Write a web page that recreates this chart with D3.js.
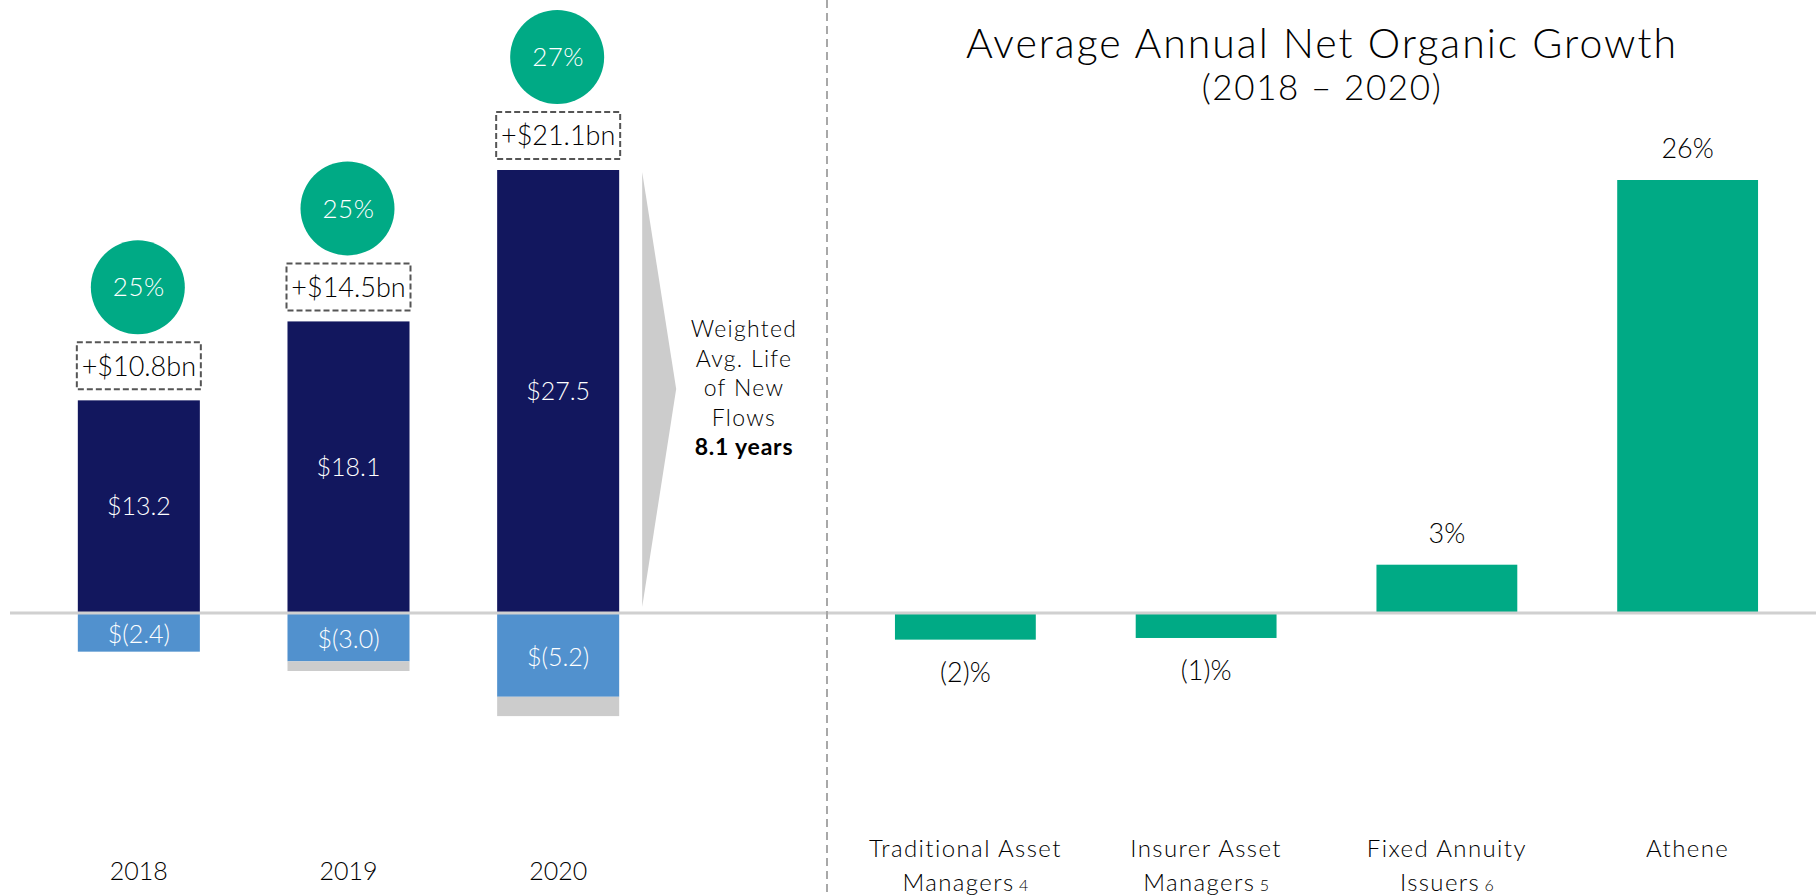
<!DOCTYPE html>
<html>
<head>
<meta charset="utf-8">
<script src="https://cdn.jsdelivr.net/npm/d3@7"></script>
<style>
  body { margin: 0; background: #fff; }
  svg text { font-family: Lato, "Open Sans", sans-serif; font-weight: 300; }
</style>
</head>
<body>
<svg id="chart" width="1816" height="895"></svg>
<script>
// left panel: annual flows
var years        = ["2018", "2019", "2020"];
var inflows      = [13.2, 18.1, 27.5];
var outflows     = [-2.4, -3.0, -5.2];
var otherOut     = [0, -0.6, -1.2];
var inflowLabels = ["$13.2", "$18.1", "$27.5"];
var outLabels    = ["$(2.4)", "$(3.0)", "$(5.2)"];
var netLabels    = ["+$10.8bn", "+$14.5bn", "+$21.1bn"];
var growthLabels = ["25%", "25%", "27%"];
var walLines     = ["Weighted", "Avg. Life", "of New", "Flows"];
var walValue     = "8.1 years";

// right panel: peer growth
var peers        = [["Traditional Asset", "Managers", "4"], ["Insurer Asset", "Managers", "5"], ["Fixed Annuity", "Issuers", "6"], ["Athene", "", ""]];
var peerGrowth   = [-1.6, -1.5, 2.9, 26];
var peerLabels   = ["(2)%", "(1)%", "3%", "26%"];

var navy  = "#12175e",
    blue  = "#5191ce",
    grey  = "#cccccc",
    green = "#00aa85";

var svg = d3.select("#chart");
var zeroY = 613;

// ---------- left chart ----------
var xL = d3.scaleBand().domain(years).range([34, 663]).paddingInner(0.418).paddingOuter(0.209);
var yL = d3.scaleLinear().domain([0, 27.5]).range([zeroY, 170]);
var bw = xL.bandwidth();

var left = svg.append("g");

left.selectAll(".in").data(years).enter().append("rect")
    .attr("x", function (d) { return xL(d); })
    .attr("y", function (d, i) { return yL(inflows[i]); })
    .attr("width", bw)
    .attr("height", function (d, i) { return yL(0) - yL(inflows[i]); })
    .attr("fill", navy);

left.selectAll(".out").data(years).enter().append("rect")
    .attr("x", function (d) { return xL(d); })
    .attr("y", yL(0))
    .attr("width", bw)
    .attr("height", function (d, i) { return yL(outflows[i]) - yL(0); })
    .attr("fill", blue);

left.selectAll(".other").data(years).enter().append("rect")
    .attr("x", function (d) { return xL(d); })
    .attr("y", function (d, i) { return yL(outflows[i]); })
    .attr("width", bw)
    .attr("height", function (d, i) { return yL(outflows[i] + otherOut[i]) - yL(outflows[i]); })
    .attr("fill", grey);

left.selectAll(".inLab").data(years).enter().append("text")
    .attr("x", function (d) { return xL(d) + bw / 2; })
    .attr("y", function (d, i) { return (yL(inflows[i]) + yL(0)) / 2; })
    .attr("dy", "0.35em")
    .attr("text-anchor", "middle")
    .attr("fill", "#fff")
    .style("font-size", "25px")
    .text(function (d, i) { return inflowLabels[i]; });

left.selectAll(".outLab").data(years).enter().append("text")
    .attr("x", function (d) { return xL(d) + bw / 2; })
    .attr("y", function (d, i) { return (yL(outflows[i]) + yL(0)) / 2 + 2; })
    .attr("dy", "0.35em")
    .attr("text-anchor", "middle")
    .attr("fill", "#fff")
    .style("font-size", "25px")
    .text(function (d, i) { return outLabels[i]; });

// dashed net boxes
left.selectAll(".box").data(years).enter().append("rect")
    .attr("x", function (d) { return xL(d) + bw / 2 - 62; })
    .attr("y", function (d, i) { return yL(inflows[i]) - 58; })
    .attr("width", 124)
    .attr("height", 47)
    .attr("fill", "none")
    .attr("stroke", "#555")
    .attr("stroke-width", 2)
    .attr("stroke-dasharray", "6,3");

left.selectAll(".boxLab").data(years).enter().append("text")
    .attr("x", function (d) { return xL(d) + bw / 2; })
    .attr("y", function (d, i) { return yL(inflows[i]) - 34; })
    .attr("dy", "0.35em")
    .attr("text-anchor", "middle")
    .attr("fill", "#000")
    .style("font-size", "27px")
    .text(function (d, i) { return netLabels[i]; });

left.selectAll(".circ").data(years).enter().append("circle")
    .attr("cx", function (d) { return xL(d) + bw / 2 - 1; })
    .attr("cy", function (d, i) { return yL(inflows[i]) - 113; })
    .attr("r", 47)
    .attr("fill", green);

left.selectAll(".circLab").data(years).enter().append("text")
    .attr("x", function (d) { return xL(d) + bw / 2; })
    .attr("y", function (d, i) { return yL(inflows[i]) - 113; })
    .attr("dy", "0.35em")
    .attr("text-anchor", "middle")
    .attr("fill", "#fff")
    .style("font-size", "26px")
    .style("letter-spacing", "0.5px")
    .text(function (d, i) { return growthLabels[i]; });

left.selectAll(".year").data(years).enter().append("text")
    .attr("x", function (d) { return xL(d) + bw / 2; })
    .attr("y", 880)
    .attr("text-anchor", "middle")
    .attr("fill", "#000")
    .style("font-size", "25px")
    .text(function (d) { return d; });

// grey arrow and weighted avg life note
var arrowX = xL("2020") + bw + 23;
left.append("polygon")
    .attr("points", [[arrowX, yL(27.5) + 2], [arrowX + 34, 389], [arrowX, 607]].join(" "))
    .attr("fill", grey);

var note = left.append("text")
    .attr("x", 744)
    .attr("text-anchor", "middle")
    .style("font-size", "23px")
    .style("letter-spacing", "1.3px")
    .attr("fill", "#000");
walLines.forEach(function (t, i) {
  note.append("tspan").attr("x", 744).attr("y", 337 + i * 29.5).text(t);
});
note.append("tspan").attr("x", 744).attr("y", 337 + 4 * 29.5)
    .style("font-weight", "700").style("letter-spacing", "0.8px").text(walValue);

// ---------- right chart ----------
var catKeys = peers.map(function (p) { return p[0]; });
var xR = d3.scaleBand().domain(catKeys).range([845, 1808]).paddingInner(0.415).paddingOuter(0.2075);
var yR = d3.scaleLinear().domain([0, 26]).range([zeroY, 180]);
var bwR = xR.bandwidth();

var right = svg.append("g");

right.selectAll(".peer").data(catKeys).enter().append("rect")
    .attr("x", function (d) { return xR(d); })
    .attr("y", function (d, i) { return yR(Math.max(0, peerGrowth[i])); })
    .attr("width", bwR)
    .attr("height", function (d, i) { return Math.abs(yR(peerGrowth[i]) - yR(0)); })
    .attr("fill", green);

right.selectAll(".peerLab").data(catKeys).enter().append("text")
    .attr("x", function (d) { return xR(d) + bwR / 2; })
    .attr("y", function (d, i) {
      return peerGrowth[i] >= 0 ? yR(peerGrowth[i]) - 31 : yR(peerGrowth[i]) + 33;
    })
    .attr("dy", "0.35em")
    .attr("text-anchor", "middle")
    .attr("fill", "#000")
    .style("font-size", "27px")
    .text(function (d, i) { return peerLabels[i]; });

var catLab = right.selectAll(".cat").data(peers).enter().append("text")
    .attr("text-anchor", "middle")
    .attr("fill", "#000")
    .style("font-size", "24px")
    .style("letter-spacing", "1.4px");
catLab.append("tspan")
    .attr("x", function (d) { return xR(d[0]) + bwR / 2; })
    .attr("y", 857)
    .text(function (d) { return d[0]; });
catLab.append("tspan")
    .attr("x", function (d) { return xR(d[0]) + bwR / 2; })
    .attr("y", 891)
    .text(function (d) { return d[1]; })
  .append("tspan")
    .style("font-size", "16px")
    .style("letter-spacing", "0px")
    .text(function (d) { return d[2] ? " " + d[2] : ""; });

// title
svg.append("text")
    .attr("x", 1322).attr("y", 58)
    .attr("text-anchor", "middle")
    .style("font-size", "41px")
    .style("letter-spacing", "2px")
    .attr("fill", "#000")
    .text("Average Annual Net Organic Growth");
svg.append("text")
    .attr("x", 1322).attr("y", 100)
    .attr("text-anchor", "middle")
    .style("font-size", "35px")
    .style("letter-spacing", "1.6px")
    .attr("fill", "#000")
    .text("(2018 \u2013 2020)");

// zero line and divider
svg.append("line")
    .attr("x1", 10).attr("x2", 1816)
    .attr("y1", zeroY).attr("y2", zeroY)
    .attr("stroke", "#d0d0d0")
    .attr("stroke-width", 3);

svg.append("line")
    .attr("x1", 827).attr("x2", 827)
    .attr("y1", 0).attr("y2", 895)
    .attr("stroke", "#a8a8a8")
    .attr("stroke-width", 2)
    .attr("stroke-dasharray", "8,5");
</script>
</body>
</html>
